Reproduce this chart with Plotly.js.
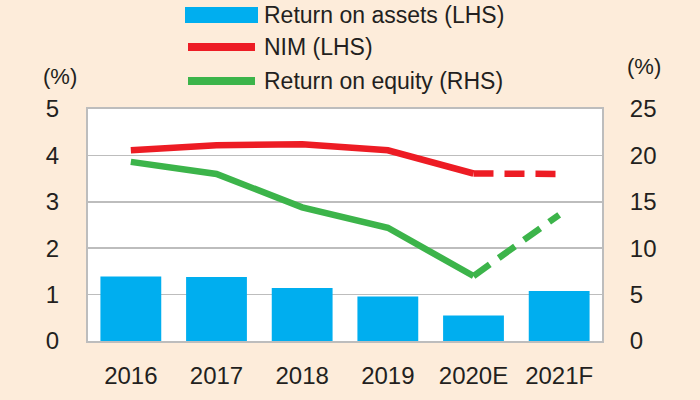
<!DOCTYPE html>
<html>
<head>
<meta charset="utf-8">
<script src="https://cdn.plot.ly/plotly-3.0.1.min.js"></script>
<style>
html,body{margin:0;padding:0;background:#fdecda;}
#chart{width:700px;height:400px;}
</style>
</head>
<body>
<div id="chart"></div>
<script>
// ---- data ----
var years = ["2016", "2017", "2018", "2019", "2020E", "2021F"];
var roa = [1.39, 1.38, 1.14, 0.96, 0.55, 1.08];      // Return on assets (LHS)
var nim = [4.11, 4.22, 4.24, 4.11, 3.61, 3.60];      // NIM (LHS)
var roe = [19.3, 18.0, 14.4, 12.2, 7.0, 13.6];       // Return on equity (RHS)
var forecastFrom = 4; // index where dashed (forecast) segment starts
var legendNames = ["Return on assets (LHS)", "NIM (LHS)", "Return on equity (RHS)"];
var leftTicks = [0, 1, 2, 3, 4, 5];
var rightTicks = [0, 5, 10, 15, 20, 25];

// ---- styling ----
var W = 700, H = 400;
var M = {l: 88, r: 98, t: 109, b: 59};
var FONT = "Liberation Sans, Arial, sans-serif";
var TXT = "#231f20";
var BLUE = "#00aeef", RED = "#ed1c24", GREEN = "#3cb44a", GRID = "#bdbdbd";

var pw = W - M.l - M.r, ph = H - M.t - M.b;
function px(x){ return (x - M.l) / pw; }
function py(y){ return (H - M.b - y) / ph; }

var traces = [
  {type: "bar", x: years, y: roa, name: legendNames[0], marker: {color: BLUE},
   width: 0.71, yaxis: "y", showlegend: false, hoverinfo: "skip"},
  {type: "scatter", mode: "lines", x: years.slice(0, forecastFrom + 1), y: nim.slice(0, forecastFrom + 1),
   name: legendNames[1], line: {color: RED, width: 6.5}, yaxis: "y", showlegend: false},
  {type: "scatter", mode: "lines", x: years.slice(forecastFrom), y: nim.slice(forecastFrom),
   line: {color: RED, width: 6.5, dash: "20px,11px"}, yaxis: "y", showlegend: false},
  {type: "scatter", mode: "lines", x: years.slice(0, forecastFrom + 1), y: roe.slice(0, forecastFrom + 1),
   name: legendNames[2], line: {color: GREEN, width: 6.5}, yaxis: "y2", showlegend: false},
  {type: "scatter", mode: "lines", x: years.slice(forecastFrom), y: roe.slice(forecastFrom),
   line: {color: GREEN, width: 6.5, dash: "20px,11px"}, yaxis: "y2", showlegend: false}
];

// custom legend (layout decoration)
var legRows = [15, 47, 81];
var symX0 = 185, symX1 = 258, textX = 262;
var shapes = [
  {type: "rect", xref: "paper", yref: "paper", x0: px(symX0), x1: px(symX1),
   y0: py(legRows[0] + 8), y1: py(legRows[0] - 8), fillcolor: BLUE, line: {width: 0}},
  {type: "line", xref: "paper", yref: "paper", x0: px(symX0 + 3), x1: px(symX1 - 3),
   y0: py(legRows[1]), y1: py(legRows[1]), line: {color: RED, width: 8}},
  {type: "line", xref: "paper", yref: "paper", x0: px(symX0 + 3), x1: px(symX1 - 3),
   y0: py(legRows[2]), y1: py(legRows[2]), line: {color: GREEN, width: 8}}
];
var annotations = legendNames.map(function(n, i){
  return {text: n, xref: "paper", yref: "paper", x: px(textX), y: py(legRows[i]),
          xanchor: "left", yanchor: "middle", showarrow: false,
          font: {family: FONT, size: 23, color: TXT}};
});
annotations.push({text: "(%)", xref: "paper", yref: "paper", x: px(60), y: py(77),
  xanchor: "center", yanchor: "middle", showarrow: false, font: {family: FONT, size: 22, color: TXT}});
annotations.push({text: "(%)", xref: "paper", yref: "paper", x: px(644), y: py(67),
  xanchor: "center", yanchor: "middle", showarrow: false, font: {family: FONT, size: 22, color: TXT}});

var layout = {
  width: W, height: H,
  margin: M,
  paper_bgcolor: "#fdecda",
  plot_bgcolor: "#ffffff",
  showlegend: false,
  font: {family: FONT, size: 23, color: TXT},
  xaxis: {type: "category", range: [-0.5, 5.5], showgrid: false, showline: true, mirror: true,
          linecolor: GRID, linewidth: 2, ticks: "outside", ticklen: 12, tickcolor: "rgba(0,0,0,0)",
          tickfont: {family: FONT, size: 24, color: TXT}, fixedrange: true},
  yaxis: {range: [0, 5], tickvals: leftTicks, showgrid: true, gridcolor: GRID, gridwidth: 1.5,
          zeroline: false, showline: true, mirror: true, linecolor: GRID, linewidth: 2,
          ticks: "outside", ticklen: 22, tickcolor: "rgba(0,0,0,0)",
          tickfont: {family: FONT, size: 24, color: TXT}, fixedrange: true},
  yaxis2: {range: [0, 25], tickvals: rightTicks, overlaying: "y", side: "right", showgrid: false,
           zeroline: false, showline: false, ticks: "outside", ticklen: 22, tickcolor: "rgba(0,0,0,0)",
           tickfont: {family: FONT, size: 24, color: TXT}, fixedrange: true},
  shapes: shapes,
  annotations: annotations
};

Plotly.newPlot("chart", traces, layout, {displayModeBar: false, staticPlot: true});
</script>
</body>
</html>
